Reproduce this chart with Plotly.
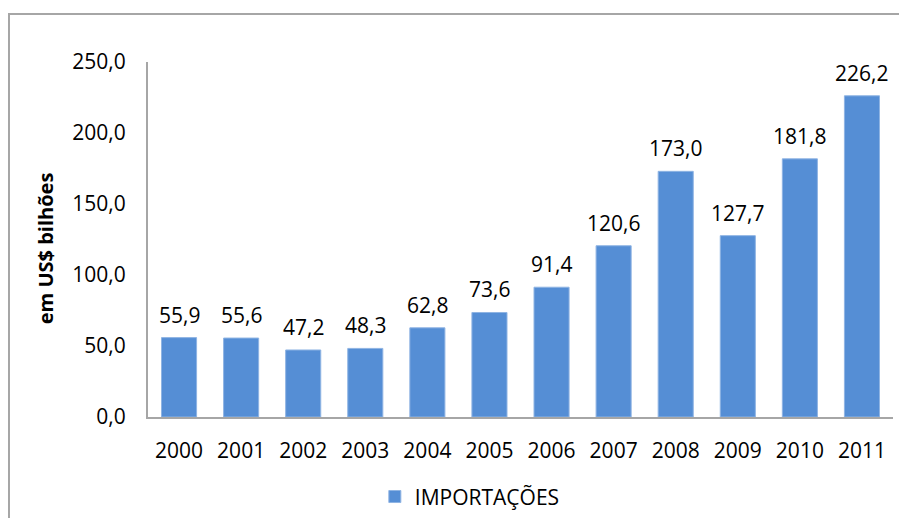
import plotly.graph_objects as go

years = ["2000", "2001", "2002", "2003", "2004", "2005", "2006", "2007", "2008", "2009", "2010", "2011"]
importacoes = [55.9, 55.6, 47.2, 48.3, 62.8, 73.6, 91.4, 120.6, 173.0, 127.7, 181.8, 226.2]
y_ticks = [0, 50, 100, 150, 200, 250]

FONT = "Open Sans"
BAR = "#558ED5"

fig = go.Figure()
fig.add_trace(go.Bar(
    x=years, y=importacoes, name="IMPORTAÇÕES",
    marker=dict(color=BAR, line=dict(color="#8FB4E3", width=1)),
    width=0.565,
))

for i, v in enumerate(importacoes):
    fig.add_annotation(x=i, y=v, text=f"{v:.1f}".replace(".", ","),
                       showarrow=False, yanchor="middle", yshift=23,
                       font=dict(family=FONT, size=21, color="#000"))

fig.add_annotation(xref="paper", yref="paper", x=-0.138, y=0.476,
                   xanchor="center", yanchor="middle",
                   text="<b>em US$ bilhões</b>", textangle=-90, showarrow=False,
                   font=dict(family=FONT, size=20, color="#000"))

fig.add_shape(type="rect", xref="paper", yref="paper",
              x0=-0.1866, x1=1.2, y0=-0.6, y1=1.135,
              line=dict(color="#A6A6A6", width=2), layer="below")

# the page body adds an 8px offset, so margins are shifted by 8px
fig.update_layout(
    width=907, height=518,
    margin=dict(l=140, r=22, t=54, b=109, autoexpand=False),
    paper_bgcolor="white", plot_bgcolor="white",
    separators=",.",
    showlegend=True,
    legend=dict(orientation="h", x=0.432, xanchor="center", y=-0.225, yanchor="middle",
                font=dict(family=FONT, size=21, color="#000"), itemwidth=30),
    font=dict(family=FONT, size=21, color="#000"),
)
fig.update_xaxes(type="category", range=[-0.5, 11.5], showline=True, linecolor="#A6A6A6",
                 linewidth=2, showgrid=False, automargin=False,
                 ticks="", ticklabelstandoff=14, tickfont=dict(family=FONT, size=21, color="#000"))
fig.update_yaxes(range=[0, 250], tickvals=y_ticks, tickformat=".1f", showline=True,
                 linecolor="#A6A6A6", linewidth=2, showgrid=False, zeroline=False, automargin=False,
                 ticks="", ticklabelstandoff=16, tickfont=dict(family=FONT, size=21, color="#000"))

fig.write_html("out.html")
